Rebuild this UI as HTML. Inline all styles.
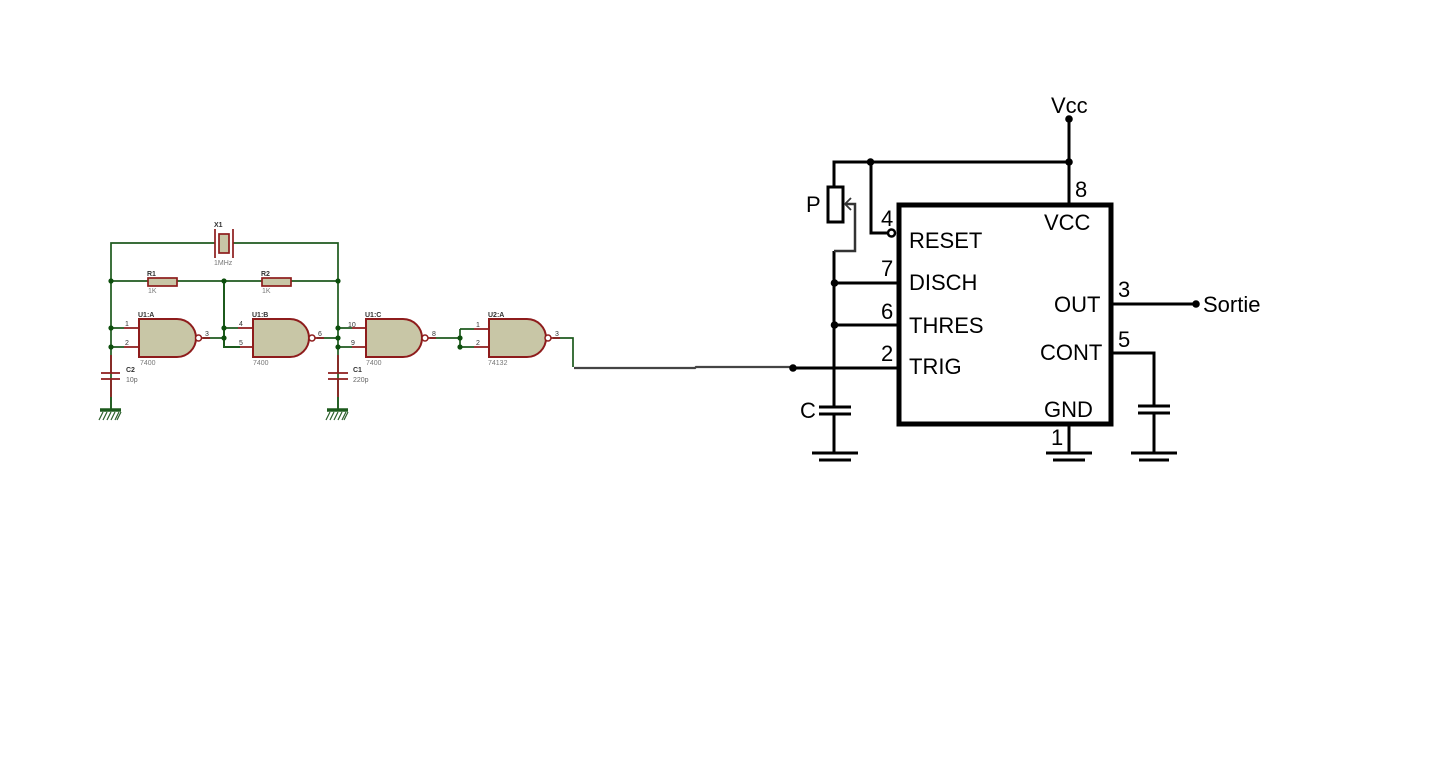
<!DOCTYPE html>
<html><head><meta charset="utf-8"><style>
html,body{margin:0;padding:0;background:#fff;width:1440px;height:768px;overflow:hidden}
svg{display:block}
text{font-family:"Liberation Sans",Arial,sans-serif}
.g{fill:none;stroke:#1f5a1f;stroke-width:1.7}
.r{fill:none;stroke:#8e1d1d;stroke-width:1.7}
.gate{fill:#c8c6a6;stroke:#8e1d1d;stroke-width:2}
.dg{fill:#0f4f0f}
.t{font-size:7px;fill:#333}
.k{fill:none;stroke:#000;stroke-width:3}
.big{font-size:22px;fill:#000}
</style></head><body>
<svg width="1440" height="768" viewBox="0 0 1440 768" xmlns="http://www.w3.org/2000/svg">
<defs><filter id="soft" filterUnits="userSpaceOnUse" x="80" y="200" width="520" height="240"><feGaussianBlur stdDeviation="0.35"/></filter></defs>
<rect width="1440" height="768" fill="#fff"/>
<!-- left circuit -->
<g filter="url(#soft)">
<path class="g" d="M111 409V243H215M233 243H338V409M111 281H148M177 281H262M290 281H338"/>
<path d="M224 281V347H240" fill="none" stroke="#1f5a1f" stroke-width="2"/>
<path class="g" d="M203 338H224M317 338H338M430 338H460M460 329V347M553 338H573V367"/>
<path class="g" d="M111 328H124M111 347H124M224 328H238M338 328H352M338 347H352M460 329H474M460 347H474"/>
<path class="r" d="M124 328H139M124 347H139M238 328H253M240 347H253M352 328H366M352 347H366M474 329H489M474 347H489M201 338H210M315 338H324M428 338H436M551 338H560"/>
<path class="r" d="M215 229V258M233 229V258M111 355V373M111 379V397M338 355V373M338 379V397"/>
<rect x="219" y="234" width="10" height="19" fill="#c8c6a6" stroke="#8e1d1d" stroke-width="1.700"/>
<rect x="148" y="278" width="29" height="8" fill="#c8c6a6" stroke="#8e1d1d" stroke-width="1.700"/>
<rect x="262" y="278" width="29" height="8" fill="#c8c6a6" stroke="#8e1d1d" stroke-width="1.700"/>
<path class="r" d="M101 373H120M101 379H120M328 373H348M328 379H348"/>
<path class="g" d="M111 397V409M338 397V409"/>
<path d="M100 410H121M327 410H348" stroke="#1f5a1f" stroke-width="3.500" fill="none"/>
<path d="M103 412l-4 8M107 412l-4 8M111 412l-4 8M115 412l-4 8M119 412l-4 8M121 412l-4 8M330 412l-4 8M334 412l-4 8M338 412l-4 8M342 412l-4 8M346 412l-4 8M348 412l-4 8" stroke="#2c5f2c" stroke-width="1.200" fill="none"/>
<path class="gate" d="M139 319H177A19 19 0 0 1 177 357H139Z"/>
<path class="gate" d="M253 319H290A19 19 0 0 1 290 357H253Z"/>
<path class="gate" d="M366 319H403A19 19 0 0 1 403 357H366Z"/>
<path class="gate" d="M489 319H527A19 19 0 0 1 527 357H489Z"/>
<g fill="#fff" stroke="#8e1d1d" stroke-width="1.500">
<circle cx="198.500" cy="338" r="3"/><circle cx="312" cy="338" r="3"/><circle cx="425" cy="338" r="3"/><circle cx="548" cy="338" r="3"/>
</g>
<g class="dg">
<circle cx="111" cy="281" r="2.600"/><circle cx="224" cy="281" r="2.600"/><circle cx="338" cy="281" r="2.600"/>
<circle cx="111" cy="328" r="2.600"/><circle cx="111" cy="347" r="2.600"/>
<circle cx="224" cy="328" r="2.600"/><circle cx="224" cy="338" r="2.600"/>
<circle cx="338" cy="328" r="2.600"/><circle cx="338" cy="338" r="2.600"/><circle cx="338" cy="347" r="2.600"/>
<circle cx="460" cy="338" r="2.600"/><circle cx="460" cy="347" r="2.600"/>
</g>
<g class="t">
<text x="214" y="227" font-weight="bold">X1</text><text x="214" y="265" style="fill:#777">1MHz</text>
<text x="147" y="276" font-weight="bold">R1</text><text x="148" y="293" style="fill:#777">1K</text>
<text x="261" y="276" font-weight="bold">R2</text><text x="262" y="293" style="fill:#777">1K</text>
<text x="138" y="317" font-weight="bold">U1:A</text><text x="252" y="317" font-weight="bold">U1:B</text>
<text x="365" y="317" font-weight="bold">U1:C</text><text x="488" y="317" font-weight="bold">U2:A</text>
<text x="140" y="365" style="fill:#777">7400</text><text x="253" y="365" style="fill:#777">7400</text>
<text x="366" y="365" style="fill:#777">7400</text><text x="488" y="365" style="fill:#777">74132</text>
<text x="125" y="326">1</text><text x="125" y="345">2</text><text x="205" y="336">3</text>
<text x="239" y="326">4</text><text x="239" y="345">5</text><text x="318" y="336">6</text>
<text x="348" y="327">10</text><text x="351" y="345">9</text><text x="432" y="336">8</text>
<text x="476" y="327">1</text><text x="476" y="345">2</text><text x="555" y="336">3</text>
<text x="126" y="372" font-weight="bold">C2</text><text x="126" y="382" style="fill:#666">10p</text>
<text x="353" y="372" font-weight="bold">C1</text><text x="353" y="382" style="fill:#666">220p</text>
</g>
</g>
<!-- link -->
<path d="M574 368H695L696 367H790" stroke="#444" stroke-width="2.200" fill="none"/>
<!-- right circuit -->
<rect x="899" y="205" width="212" height="219" fill="#fff" stroke="#000" stroke-width="5"/>
<path class="k" d="M834 187V162H1069M1069 119V204M871 162V233H887M834 251V453M834 283H898M834 325H898M792 368H898M1112 304H1196M1112 353H1154V453M1069 424V453"/>
<path d="M845 204H855V251H834" fill="none" stroke="#333" stroke-width="2.500"/>
<path d="M845 204l6-6M845 204l6 6" fill="none" stroke="#333" stroke-width="1.800"/>
<rect x="828" y="187" width="15" height="35" fill="#fff" stroke="#000" stroke-width="3"/>
<rect x="830" y="408" width="8" height="5" fill="#fff"/><rect x="1150" y="407" width="8" height="5" fill="#fff"/>
<path d="M819 407H851M819 414H851M1138 406H1170M1138 413H1170M812 453H858M819 460H851M1046 453H1092M1053 460H1085M1131 453H1177M1139 460H1169" stroke="#000" stroke-width="3" fill="none"/>
<circle cx="891.500" cy="233" r="3.500" fill="#fff" stroke="#000" stroke-width="2.500"/>
<g fill="#000">
<circle cx="1069" cy="119" r="3.800"/><circle cx="1069" cy="162" r="3.800"/><circle cx="870.500" cy="162" r="3.800"/>
<circle cx="834.500" cy="283" r="3.800"/><circle cx="834.500" cy="325" r="3.800"/><circle cx="793" cy="368" r="3.800"/><circle cx="1196" cy="304" r="3.800"/>
</g>
<g class="big">
<text x="1051" y="113">Vcc</text>
<text x="806" y="212">P</text>
<text x="800" y="418">C</text>
<text x="1203" y="312">Sortie</text>
<text x="881" y="226">4</text><text x="881" y="276">7</text><text x="881" y="319">6</text><text x="881" y="361">2</text>
<text x="1075" y="197">8</text><text x="1118" y="297">3</text><text x="1118" y="347">5</text><text x="1051" y="445">1</text>
<text x="909" y="248">RESET</text>
<text x="909" y="290">DISCH</text>
<text x="909" y="333">THRES</text>
<text x="909" y="374">TRIG</text>
<text x="1044" y="230">VCC</text>
<text x="1054" y="312">OUT</text>
<text x="1040" y="360">CONT</text>
<text x="1044" y="417">GND</text>
</g>
</svg>
</body></html>
